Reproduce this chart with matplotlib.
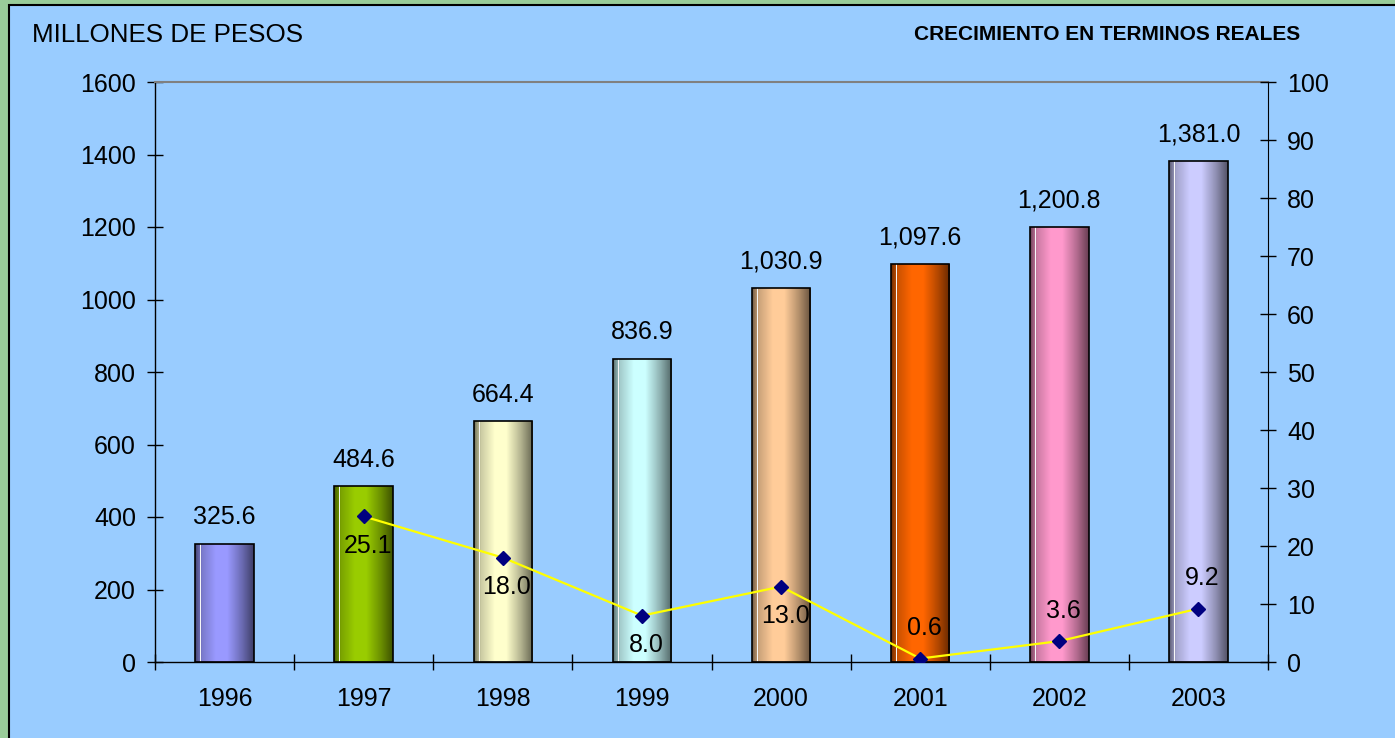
import numpy as np
import matplotlib
matplotlib.use("Agg")
import matplotlib.pyplot as plt
from matplotlib.patches import Rectangle
from matplotlib.colors import to_rgb

plt.rcParams["font.family"] = ["Liberation Sans", "DejaVu Sans"]

# data
years = ["1996", "1997", "1998", "1999", "2000", "2001", "2002", "2003"]
millones = [325.6, 484.6, 664.4, 836.9, 1030.9, 1097.6, 1200.8, 1381.0]
growth_years = ["1997", "1998", "1999", "2000", "2001", "2002", "2003"]
growth = [25.1, 18.0, 8.0, 13.0, 0.6, 3.6, 9.2]
growth_above = [False, False, False, False, True, True, True]
bar_colors = ["#9999FF", "#99CC00", "#FFFFCC", "#CCFFFF",
              "#FFCC99", "#FF6600", "#FF99CC", "#CCCCFF"]

FS = 18


def cylinder_shade(color, n=240):
    """Horizontal shading that makes a flat bar look like a cylinder."""
    t = np.linspace(0, 1, n)
    f = np.interp(t, [0, 0.05, 0.12, 0.35, 0.55, 0.8, 1.0],
                  [0.42, 0.6, 0.8, 1.0, 1.0, 0.7, 0.4])
    base = np.array(to_rgb(color))
    img = base[None, :] * f[:, None]
    white = (t > 0.09) & (t < 0.105)
    img[white] = [0.97, 0.97, 0.97]
    return np.clip(img[None, :, :], 0, 1)


fig = plt.figure(figsize=(13.95, 7.38), dpi=100, facecolor="#99CC99")
fig.patches.append(Rectangle((8.5 / 1395, -0.1), 1.2, (738 - 5.5) / 738 + 0.1,
                             transform=fig.transFigure, facecolor="#99CCFF",
                             edgecolor="black", linewidth=1.5, zorder=-10))

ax = fig.add_axes([155 / 1395, 76 / 738, 1113 / 1395, 580 / 738])
ax.set_facecolor("none")
x = np.arange(len(years))
bars = ax.bar(x, millones, width=0.42, color=bar_colors,
              edgecolor="black", linewidth=1.2, zorder=2)
for patch, c in zip(bars, bar_colors):
    bx, by = patch.get_x(), patch.get_y()
    im = ax.imshow(cylinder_shade(c), extent=[bx, bx + patch.get_width(),
                                              by, by + patch.get_height()],
                   aspect="auto", interpolation="nearest", zorder=2.5)
    im.set_clip_path(patch)
    patch.set_facecolor("none")
    patch.set_zorder(3)

ax.bar_label(bars, labels=[f"{v:,.1f}" for v in millones], padding=10.5,
             fontsize=FS)

ax.set_xlim(-0.5, len(years) - 0.5)
ax.set_ylim(0, 1600)
ax.set_yticks(np.arange(0, 1601, 200))
ax.set_xticks(np.arange(-0.5, len(years), 1.0))
ax.set_xticklabels([])
ax.set_xticks(x, minor=True)
ax.set_xticklabels(years, minor=True)
ax.tick_params(axis="x", which="major", direction="inout", length=11.5,
               width=1)
ax.tick_params(axis="x", which="minor", length=0, pad=18, labelsize=FS)
ax.tick_params(axis="y", direction="inout", length=11.5, width=1, pad=8,
               labelsize=FS)
ax.spines["top"].set_color("#808080")
ax.spines["top"].set_linewidth(1.5)
ax.spines["right"].set_visible(False)
for s in ("left", "bottom"):
    ax.spines[s].set_color("black")
    ax.spines[s].set_linewidth(1)

ax2 = ax.twinx()
ax2.set_ylim(0, 100)
ax2.set_yticks(np.arange(0, 101, 10))
ax2.tick_params(axis="y", direction="inout", length=11.5, width=1, pad=8,
                labelsize=FS)
for s in ("left", "bottom", "top"):
    ax2.spines[s].set_visible(False)
ax2.spines["right"].set_color("black")

gx = [years.index(y) for y in growth_years]
ax2.plot(gx, growth, color="#FFFF00", linewidth=1.6, marker="D",
         markersize=7.5, markerfacecolor="#000080",
         markeredgecolor="#000080", zorder=5)
for xi, v, up in zip(gx, growth, growth_above):
    ax2.annotate(f"{v:.1f}", (xi, v), xytext=(3, 22 if up else -21),
                 textcoords="offset points", ha="center", va="center",
                 fontsize=FS)

fig.text(32 / 1395, (738 - 41.7) / 738, "MILLONES DE PESOS", fontsize=18.7,
         va="baseline", ha="left")
fig.text(1300 / 1395, (738 - 40.5) / 738, "CRECIMIENTO EN TERMINOS REALES",
         fontsize=15, fontweight="bold", va="baseline", ha="right")

fig.savefig("out.png", dpi=100, facecolor=fig.get_facecolor())
